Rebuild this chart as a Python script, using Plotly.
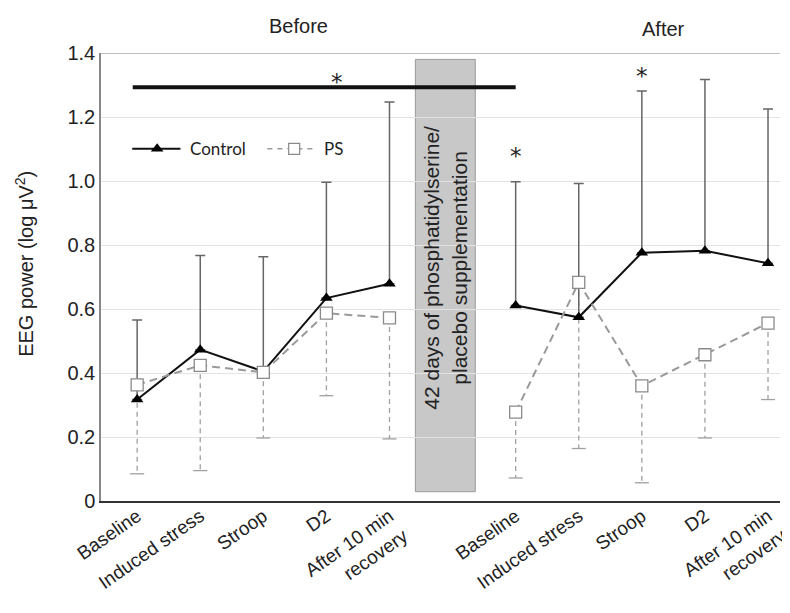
import plotly.graph_objects as go

# ---------------- data ----------------
categories = ["Baseline", "Induced stress", "Stroop", "D2", "After 10 min<br>recovery"]
before_pos = [0, 1, 2, 3, 4]
after_pos = [6, 7, 8, 9, 10]

control_before = [0.317, 0.473, 0.405, 0.634, 0.679]
control_before_sd = [0.249, 0.294, 0.358, 0.362, 0.568]
ps_before = [0.363, 0.424, 0.402, 0.587, 0.572]
ps_before_sd = [0.278, 0.329, 0.205, 0.258, 0.378]

control_after = [0.611, 0.574, 0.776, 0.782, 0.743]
control_after_sd = [0.387, 0.418, 0.505, 0.535, 0.482]
ps_after = [0.278, 0.683, 0.360, 0.457, 0.556]
ps_after_sd = [0.206, 0.519, 0.303, 0.260, 0.239]

y_ticks = [0, 0.2, 0.4, 0.6, 0.8, 1.0, 1.2, 1.4]
y_ticktext = ["0", "0.2", "0.4", "0.6", "0.8", "1.0", "1.2", "1.4"]

series_names = ["Control", "PS"]

sig_span = [-0.07, 6.0]
sig_level = 1.293
stars_x = [3.16, 6, 8]
stars_y = [1.31, 1.077, 1.328]

box_span = [4.41, 5.36]
box_y = [0.029, 1.38]
box_text = "42 days of phosphatidylserine/<br>placebo supplementation"

FONT = "Liberation Sans, Arial, sans-serif"
TXT = "#222222"
CTRL_LINE = "#111111"
PS_LINE = "#9a9a9a"
ERR_PS = "#a0a0a0"

fig = go.Figure()

# PS dashed lower error bars (drawn from the data arrays)
ex, ey, cx, cy = [], [], [], []
for pos, vals, sds in [(before_pos, ps_before, ps_before_sd), (after_pos, ps_after, ps_after_sd)]:
    for p, v, s in zip(pos, vals, sds):
        ex += [p, p, None]
        ey += [v, v - s, None]
        cx.append(p)
        cy.append(v - s)
fig.add_trace(go.Scatter(x=ex, y=ey, mode="lines", line=dict(color=ERR_PS, width=1.3, dash="5px,4px"),
                         showlegend=False, hoverinfo="skip", cliponaxis=False))
fig.add_trace(go.Scatter(x=cx, y=cy, mode="markers",
                         marker=dict(symbol="line-ew-open", size=10, color=ERR_PS,
                                     line=dict(color=ERR_PS, width=1.3)),
                         showlegend=False, hoverinfo="skip", cliponaxis=False))

# Control series (upper error bars)
for pos, vals, sds in [(before_pos, control_before, control_before_sd),
                       (after_pos, control_after, control_after_sd)]:
    fig.add_trace(go.Scatter(
        x=pos, y=vals, mode="lines+markers", name=series_names[0],
        line=dict(color=CTRL_LINE, width=2),
        marker=dict(symbol="triangle-up", size=11, color="#000000"),
        error_y=dict(type="data", symmetric=False, array=sds, arrayminus=[0] * len(sds),
                     color="#666666", thickness=1.5, width=5),
        showlegend=False, cliponaxis=False))

# PS series
for pos, vals in [(before_pos, ps_before), (after_pos, ps_after)]:
    fig.add_trace(go.Scatter(
        x=pos, y=vals, mode="lines+markers", name=series_names[1],
        line=dict(color=PS_LINE, width=2, dash="8px,5px"),
        marker=dict(symbol="square", size=12, color="white", line=dict(color="#8a8a8a", width=1.3)),
        showlegend=False, cliponaxis=False))

# ---- in-plot legend (line samples on an overlay axis spanning the plot area) ----
leg_y = 0.786
fig.add_trace(go.Scatter(x=[0.046, 0.117], y=[leg_y, leg_y], mode="lines", xaxis="x2", yaxis="y2",
                         line=dict(color=CTRL_LINE, width=2), showlegend=False, hoverinfo="skip"))
fig.add_trace(go.Scatter(x=[0.0827], y=[leg_y], mode="markers", xaxis="x2", yaxis="y2",
                         marker=dict(symbol="triangle-up", size=11, color="#000000"),
                         showlegend=False, hoverinfo="skip"))
fig.add_trace(go.Scatter(x=[0.245, 0.316], y=[leg_y, leg_y], mode="lines", xaxis="x2", yaxis="y2",
                         line=dict(color=PS_LINE, width=1.5, dash="5px,5px"), showlegend=False, hoverinfo="skip"))
fig.add_trace(go.Scatter(x=[0.2845], y=[leg_y], mode="markers", xaxis="x2", yaxis="y2",
                         marker=dict(symbol="square", size=11, color="white", line=dict(color="#8a8a8a", width=1.2)),
                         showlegend=False, hoverinfo="skip"))
for lx, name in zip([0.1275, 0.326], series_names):
    fig.add_annotation(x=lx, y=leg_y, xref="paper", yref="paper", text=name, showarrow=False,
                       xanchor="left", yanchor="middle", font=dict(family="Lato, sans-serif", size=17, color=TXT))

# supplementation box
fig.add_shape(type="rect", x0=box_span[0], x1=box_span[1], y0=box_y[0], y1=box_y[1],
              fillcolor="#c8c8c8", line=dict(color="#9a9a9a", width=1), layer="below")
fig.add_annotation(x=4.88, y=0.729, text=box_text, textangle=-90, xanchor="center", yanchor="middle",
                   showarrow=False, font=dict(family=FONT, size=21, color=TXT))

# top border line
fig.add_shape(type="line", xref="paper", x0=0, x1=1, y0=1.4, y1=1.4, line=dict(color="#aaaaaa", width=1.5))

# significance bar and stars
fig.add_shape(type="line", x0=sig_span[0], x1=sig_span[1], y0=sig_level, y1=sig_level,
              line=dict(color="#111111", width=4))
for sx, sy in zip(stars_x, stars_y):
    fig.add_annotation(x=sx, y=sy, text="*", showarrow=False, xanchor="center", yanchor="middle",
                       font=dict(family="DejaVu Sans, sans-serif", size=23, color=TXT))

# phase titles
fig.add_annotation(x=2.56, y=1.061, yref="paper", text="Before", showarrow=False,
                   xanchor="center", yanchor="middle", font=dict(family=FONT, size=20, color=TXT))
fig.add_annotation(x=8.35, y=1.053, yref="paper", text="After", showarrow=False,
                   xanchor="center", yanchor="middle", font=dict(family=FONT, size=20, color=TXT))

# y-axis title
fig.add_annotation(x=-0.113, y=0.53, xref="paper", yref="paper", text="EEG power (log \u03bcV<sup>2</sup>)",
                   textangle=-90, xanchor="center", yanchor="middle", showarrow=False,
                   font=dict(family=FONT, size=20, color=TXT))

fig.update_layout(
    width=782, height=605,
    margin=dict(l=93, r=0, t=45, b=111.5),
    plot_bgcolor="white", paper_bgcolor="white",
    font=dict(family=FONT, size=18, color=TXT),
    showlegend=False,
    xaxis=dict(range=[-0.573, 10.19], tickvals=before_pos + after_pos, ticktext=categories + categories,
               tickangle=-35, showgrid=False, zeroline=False, showline=True, linecolor="#333333",
               linewidth=1.5, ticks="", tickfont=dict(size=19), ticklabeloverflow="allow",
               ticklabelstandoff=-5),
    yaxis=dict(range=[0, 1.4], tickvals=y_ticks, ticktext=y_ticktext, showgrid=True, gridcolor="#e3e3e3",
               gridwidth=1.2, zeroline=False, showline=True, linecolor="#888888", linewidth=1.5, ticks="",
               tickfont=dict(size=20)),
    xaxis2=dict(overlaying="x", range=[0, 1], visible=False, fixedrange=True),
    yaxis2=dict(overlaying="y", range=[0, 1], visible=False, fixedrange=True),
)

fig.write_html("out.html")
